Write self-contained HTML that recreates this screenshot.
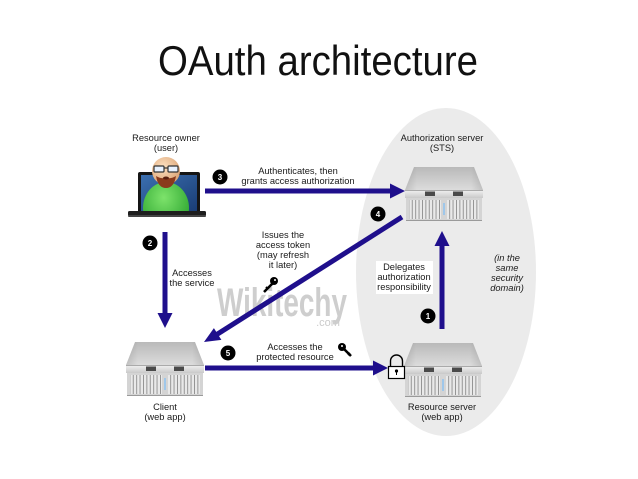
<!DOCTYPE html>
<html><head><meta charset="utf-8"><style>
html,body{margin:0;padding:0;background:#fff;}
svg{display:block;}
text{font-family:"Liberation Sans",Arial,sans-serif;fill:#1a1a1a;}
</style></head><body>
<svg width="638" height="479" viewBox="0 0 638 479" xmlns="http://www.w3.org/2000/svg">
<defs>
 <linearGradient id="lid" x1="0" y1="0" x2="0" y2="1">
  <stop offset="0" stop-color="#b9b9b9"/><stop offset="1" stop-color="#dcdcdc"/>
 </linearGradient>
 <linearGradient id="lidside" x1="0" y1="0" x2="1" y2="0">
  <stop offset="0" stop-color="#000" stop-opacity="0.12"/><stop offset="0.15" stop-color="#000" stop-opacity="0"/>
  <stop offset="0.85" stop-color="#000" stop-opacity="0"/><stop offset="1" stop-color="#000" stop-opacity="0.12"/>
 </linearGradient>
 <linearGradient id="strip" x1="0" y1="0" x2="0" y2="1">
  <stop offset="0" stop-color="#f2f2f2"/><stop offset="1" stop-color="#c9c9c9"/>
 </linearGradient>
 <pattern id="bays" width="3.4" height="30" patternUnits="userSpaceOnUse">
  <rect width="3.4" height="30" fill="#e9e9e9"/>
  <rect width="0.9" height="30" fill="#8d8d8d"/>
 </pattern>
 <radialGradient id="skin" cx="0.4" cy="0.35" r="0.7">
  <stop offset="0" stop-color="#fde0c0"/><stop offset="1" stop-color="#d9a172"/>
 </radialGradient>
 <radialGradient id="green" cx="0.45" cy="0.3" r="0.8">
  <stop offset="0" stop-color="#7de36b"/><stop offset="1" stop-color="#1e9a25"/>
 </radialGradient>
 <linearGradient id="scr" x1="0" y1="0" x2="1" y2="1">
  <stop offset="0" stop-color="#3b6fb0"/><stop offset="1" stop-color="#1a3d75"/>
 </linearGradient>
 <g id="srv">
  <polygon points="9,0 69,0 78,23 0,23" fill="url(#lid)"/>
  <polygon points="9,0 69,0 78,23 0,23" fill="url(#lidside)"/>
  <rect x="0" y="23" width="78" height="8" fill="url(#strip)"/>
  <rect x="0" y="23" width="78" height="0.8" fill="#999"/>
  <rect x="20" y="24.5" width="10" height="4.5" fill="#4a4a4a"/>
  <rect x="48" y="24.5" width="10" height="4.5" fill="#4a4a4a"/>
  <rect x="1" y="31" width="76" height="23" fill="#d4d4d4"/>
  <rect x="4" y="33" width="32" height="19" fill="url(#bays)"/>
  <rect x="42" y="33" width="32" height="19" fill="url(#bays)"/>
  <rect x="38" y="36" width="2" height="12" fill="#9fc7ea"/>
  <rect x="1" y="53" width="76" height="1" fill="#9a9a9a"/>
 </g>
</defs>

<!-- security domain ellipse -->
<ellipse cx="446" cy="272" rx="90" ry="164" fill="#ebebeb"/>

<!-- title -->
<text x="318" y="75" font-size="42" text-anchor="middle" textLength="320" lengthAdjust="spacingAndGlyphs" style="fill:#111">OAuth architecture</text>

<!-- watermark -->
<g opacity="0.9">
 <text x="282" y="316" font-size="31" font-weight="bold" text-anchor="middle" textLength="130" lengthAdjust="spacingAndGlyphs" style="fill:#c9c9c9" transform="translate(0,-95) scale(1,1.3)">Wikitechy</text>
 <text x="328" y="326" font-size="11" text-anchor="middle" style="fill:#c6c6c6">.com</text>
</g>

<!-- Resource owner laptop -->
<text x="166" y="141" font-size="9.3" text-anchor="middle">Resource owner</text>
<text x="166" y="151" font-size="9.3" text-anchor="middle">(user)</text>
<rect x="138" y="172" width="62" height="41" rx="2" fill="#151515"/>
<rect x="141" y="175" width="56" height="36" fill="url(#scr)"/>
<clipPath id="scrclip"><rect x="141" y="150" width="56" height="61"/></clipPath>
<g clip-path="url(#scrclip)">
 <ellipse cx="166" cy="208" rx="23" ry="26" fill="url(#green)"/>
</g>
<rect x="128" y="211" width="78" height="5" rx="1.5" fill="#1e1e1e"/>
<rect x="128" y="215" width="78" height="2" rx="1" fill="#444"/>
<circle cx="166" cy="171" r="14" fill="url(#skin)"/>
<path d="M156,176 Q158,188 166,188 Q174,188 176,176 Q171,179 166,178 Q161,179 156,176Z" fill="#8a3a1c"/>
<ellipse cx="166" cy="178" rx="3" ry="1.5" fill="#5a2010"/>
<rect x="154" y="166" width="10" height="6" rx="1" fill="#e8f2ff" stroke="#333" stroke-width="1.2"/>
<rect x="168" y="166" width="10" height="6" rx="1" fill="#e8f2ff" stroke="#333" stroke-width="1.2"/>
<line x1="164" y1="168" x2="168" y2="168" stroke="#333" stroke-width="1.2"/>

<!-- Authorization server -->
<text x="442" y="141" font-size="9.3" text-anchor="middle">Authorization server</text>
<text x="442" y="151" font-size="9.3" text-anchor="middle">(STS)</text>
<use href="#srv" x="405" y="167"/>

<!-- Client -->
<use href="#srv" x="126" y="342"/>
<text x="165" y="410" font-size="9.3" text-anchor="middle">Client</text>
<text x="165" y="420" font-size="9.3" text-anchor="middle">(web app)</text>

<!-- Resource server -->
<use href="#srv" x="404" y="343"/>
<text x="442" y="410" font-size="9.3" text-anchor="middle">Resource server</text>
<text x="442" y="420" font-size="9.3" text-anchor="middle">(web app)</text>

<!-- Arrows -->
<g fill="#1f0f8c" stroke="none">
 <!-- 3 -->
 <rect x="205" y="188.5" width="187" height="5"/>
 <polygon points="405,191 390,183.5 390,198.5"/>
 <!-- 2 -->
 <rect x="162.5" y="232" width="5" height="84"/>
 <polygon points="165,328 157.5,313 172.5,313"/>
 <!-- 1 -->
 <rect x="439.5" y="244" width="5" height="85"/>
 <polygon points="442,231 434.5,246 449.5,246"/>
 <!-- 5 -->
 <rect x="205" y="365.5" width="170" height="5"/>
 <polygon points="388,368 373,360.5 373,375.5"/>
 <!-- 4 -->
 <polygon points="204,342 221.4,339.9 213.9,328.1"/>
</g>
<line x1="402" y1="217" x2="216" y2="335" stroke="#1f0f8c" stroke-width="5"/>

<!-- numbered circles -->
<g font-size="8" font-weight="bold" text-anchor="middle">
 <circle cx="220" cy="177" r="7.5" fill="#000"/><text x="220" y="180" style="fill:#fff">3</text>
 <circle cx="150" cy="243" r="7.5" fill="#000"/><text x="150" y="246" style="fill:#fff">2</text>
 <circle cx="378" cy="214" r="7.5" fill="#000"/><text x="378" y="217" style="fill:#fff">4</text>
 <circle cx="428" cy="316" r="7.5" fill="#000"/><text x="428" y="319" style="fill:#fff">1</text>
 <circle cx="228" cy="353" r="7.5" fill="#000"/><text x="228" y="356" style="fill:#fff">5</text>
</g>

<!-- labels -->
<g font-size="9.3" text-anchor="middle">
 <text x="298" y="174">Authenticates, then</text>
 <text x="298" y="184">grants access authorization</text>
 <text x="192" y="276">Accesses</text>
 <text x="192" y="286">the service</text>
 <text x="283" y="238">Issues the</text>
 <text x="283" y="248">access token</text>
 <text x="283" y="258">(may refresh</text>
 <text x="283" y="268">it later)</text>
 <text x="295" y="350">Accesses the</text>
 <text x="295" y="360">protected resource</text>
</g>
<rect x="376" y="261" width="57" height="33" fill="#fff"/>
<g font-size="9.3" text-anchor="middle">
 <text x="404" y="270">Delegates</text>
 <text x="404" y="280">authorization</text>
 <text x="404" y="290">responsibility</text>
</g>
<g font-size="9.3" text-anchor="middle" font-style="italic">
 <text x="507" y="261">(in the</text>
 <text x="507" y="271">same</text>
 <text x="507" y="281">security</text>
 <text x="507" y="291">domain)</text>
</g>

<!-- keys -->
<g fill="#000" stroke="#000">
 <circle cx="342" cy="347" r="4" stroke="none"/>
 <line x1="343" y1="348" x2="351" y2="356" stroke-width="2.6"/>
 <line x1="348" y1="355" x2="350" y2="353" stroke-width="2"/>
 <circle cx="274" cy="281" r="4" stroke="none"/>
 <line x1="273" y1="283" x2="264" y2="292" stroke-width="2.6"/>
 <line x1="266" y1="287" x2="268" y2="289" stroke-width="2"/>
</g>
<circle cx="342" cy="346" r="1" fill="#fff"/>
<circle cx="275" cy="280" r="1" fill="#fff"/>

<!-- lock -->
<path d="M390.5,367 V361 a6,6 0 0 1 12,0 V367" fill="none" stroke="#000" stroke-width="1.4"/>
<rect x="388.5" y="366.5" width="16" height="12" fill="#fff" stroke="#000" stroke-width="1.2"/>
<circle cx="396.5" cy="371" r="1.6" fill="#000"/>
<rect x="396" y="371" width="1" height="4" fill="#000"/>
</svg>
</body></html>
